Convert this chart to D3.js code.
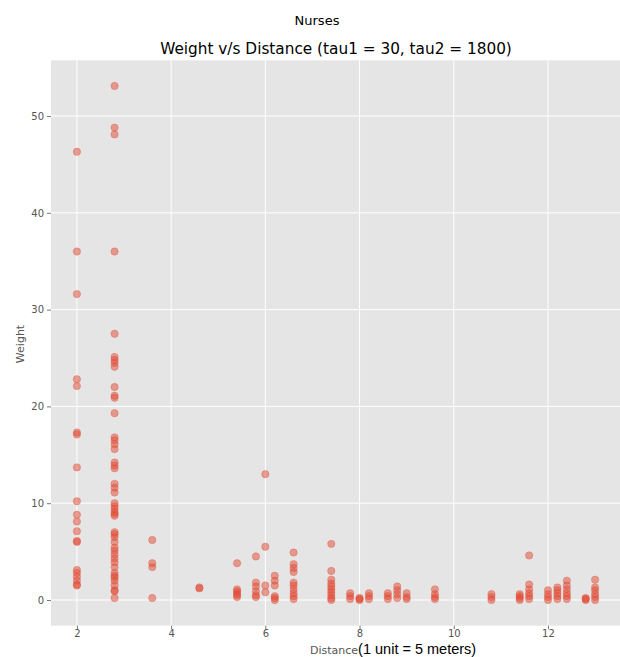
<!DOCTYPE html>
<html>
<head>
<meta charset="utf-8">
<script src="https://cdn.jsdelivr.net/npm/d3@7"></script>
<style>
  html, body { margin: 0; padding: 0; background: #fff; }
  svg { display: block; }
</style>
</head>
<body>
<svg id="chart" width="620" height="657"></svg>
<script>
// ---- data ----
const distances = [2, 2.8, 3.6, 4.6, 5.4, 5.8, 6.0, 6.2, 6.6, 7.4, 7.8, 8.0, 8.2, 8.6, 8.8, 9.0, 9.6, 10.8, 11.4, 11.6, 12.0, 12.2, 12.4, 12.8, 13.0];
const weights = [
  [46.3, 36.0, 31.6, 22.8, 22.1, 17.3, 17.1, 13.7, 10.2, 8.8, 8.1, 7.1, 6.1, 6.0, 3.1, 2.8, 2.4, 2.0, 1.6, 1.5],
  [53.1, 48.8, 48.1, 36.0, 27.5, 25.1, 24.8, 24.5, 24.1, 22.0, 21.1, 20.9, 19.3, 16.8, 16.5, 16.1, 15.6, 14.2, 13.9, 13.6, 12.0, 11.6, 11.1, 10.0, 9.7, 9.4, 9.1, 8.9, 8.7, 7.0, 6.8, 6.5, 6.0, 5.4, 5.1, 4.7, 4.3, 3.9, 3.4, 2.8, 2.5, 2.3, 2.0, 1.5, 1.0, 0.9, 0.2],
  [6.2, 3.8, 3.4, 0.2],
  [1.3, 1.2],
  [3.8, 1.1, 0.9, 0.7, 0.5, 0.3],
  [4.5, 1.8, 1.4, 0.9, 0.5, 0.3],
  [13.0, 5.5, 1.5, 0.8],
  [2.5, 2.0, 1.5, 0.4, 0.2, 0.0],
  [4.9, 3.7, 3.3, 2.9, 1.8, 1.5, 1.1, 0.7, 0.4, 0.1],
  [5.8, 3.0, 2.1, 1.7, 1.4, 1.1, 0.8, 0.5, 0.2, 0.0],
  [0.7, 0.4, 0.1],
  [0.2, 0.1, 0.0],
  [0.7, 0.4, 0.1],
  [0.7, 0.4, 0.1],
  [1.4, 1.0, 0.6, 0.2],
  [0.7, 0.3, 0.1],
  [1.1, 0.6, 0.3, 0.1],
  [0.6, 0.3, 0.0],
  [0.6, 0.4, 0.2, 0.0],
  [4.6, 1.6, 1.1, 0.7, 0.4, 0.1],
  [1.0, 0.6, 0.3, 0.0],
  [1.3, 1.0, 0.7, 0.4, 0.1],
  [2.0, 1.5, 1.1, 0.7, 0.4, 0.1],
  [0.2, 0.1, 0.0],
  [2.1, 1.3, 1.0, 0.6, 0.3, 0.0]
];
const xTicks = [2, 4, 6, 8, 10, 12];
const yTicks = [0, 10, 20, 30, 40, 50];
const suptitle = "Nurses";
const title = "Weight v/s Distance (tau1 = 30, tau2 = 1800)";
const xLabelA = "Distance";
const xLabelB = "(1 unit = 5 meters)";
const yLabel = "Weight";

// ---- build points ----
const points = [];
distances.forEach((d, i) => weights[i].forEach(w => points.push({x: d, y: w})));

// ---- layout ----
const svg = d3.select("#chart");
const plot = {left: 51, right: 621, top: 60.3, bottom: 625.7};
const x = d3.scaleLinear().domain([1.45, 13.55]).range([plot.left, plot.right]);
const y = d3.scaleLinear().domain([-2.655, 55.755]).range([plot.bottom, plot.top]);

svg.append("rect")
  .attr("x", plot.left).attr("y", plot.top)
  .attr("width", plot.right - plot.left).attr("height", plot.bottom - plot.top)
  .attr("fill", "#E5E5E5");

// grid
const g = svg.append("g");
g.selectAll(".gx").data(xTicks).enter().append("line")
  .attr("x1", d => x(d)).attr("x2", d => x(d))
  .attr("y1", plot.top).attr("y2", plot.bottom)
  .attr("stroke", "#fff").attr("stroke-width", 1);
g.selectAll(".gy").data(yTicks).enter().append("line")
  .attr("y1", d => y(d)).attr("y2", d => y(d))
  .attr("x1", plot.left).attr("x2", plot.right)
  .attr("stroke", "#fff").attr("stroke-width", 1);

// axes
const xAxis = d3.axisBottom(x).tickValues(xTicks).tickSize(3.5).tickPadding(1.2).tickFormat(d3.format("d"));
const yAxis = d3.axisLeft(y).tickValues(yTicks).tickSize(4).tickPadding(3).tickFormat(d3.format("d"));
const gx = svg.append("g").attr("transform", `translate(0,${plot.bottom})`).call(xAxis);
const gy = svg.append("g").attr("transform", `translate(${plot.left},0)`).call(yAxis);
[gx, gy].forEach(a => {
  a.select(".domain").remove();
  a.selectAll(".tick line").attr("stroke", "#555").attr("stroke-width", 0.8);
  a.selectAll(".tick text").attr("fill", "#555")
    .style("font-family", "DejaVu Sans, sans-serif").style("font-size", "10px");
});

// points
svg.append("g").selectAll("circle").data(points).enter().append("circle")
  .attr("cx", d => x(d.x)).attr("cy", d => y(d.y)).attr("r", 3.7)
  .attr("fill", "#E24A33").attr("fill-opacity", 0.5)
  .attr("stroke", "#E24A33").attr("stroke-opacity", 0.5).attr("stroke-width", 0.6);

// titles
svg.append("text").attr("x", 317).attr("y", 25).attr("text-anchor", "middle")
  .style("font-family", "DejaVu Sans, sans-serif").style("font-size", "13px").attr("fill", "#000")
  .text(suptitle);
svg.append("text").attr("x", 336).attr("y", 54).attr("text-anchor", "middle")
  .style("font-family", "DejaVu Sans, sans-serif").style("font-size", "15.3px").attr("fill", "#000")
  .text(title);

// x label
const xl = svg.append("text").attr("x", 310).attr("y", 653.8)
  .style("font-family", "DejaVu Sans, sans-serif");
xl.append("tspan").attr("fill", "#555").style("font-size", "11px").text(xLabelA);
xl.append("tspan").attr("fill", "#000").style("font-family", "Liberation Sans, Arial, sans-serif").style("font-size", "14.5px").text(xLabelB);

// y label
svg.append("text").attr("transform", "translate(24,344) rotate(-90)").attr("text-anchor", "middle")
  .style("font-family", "DejaVu Sans, sans-serif").style("font-size", "11px").attr("fill", "#555")
  .text(yLabel);
</script>
</body>
</html>
